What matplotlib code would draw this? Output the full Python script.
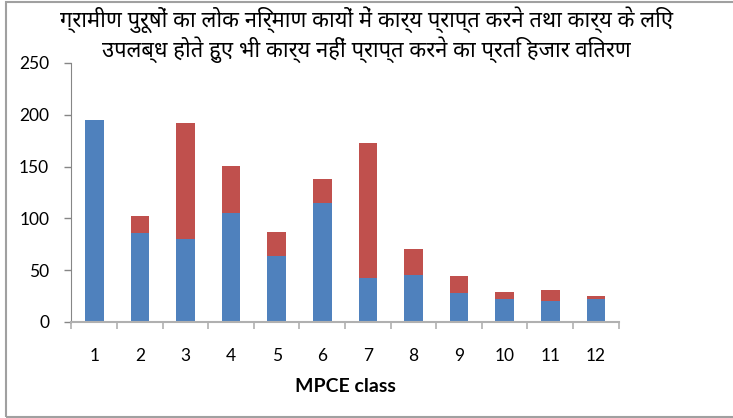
import matplotlib
matplotlib.use("Agg")
import matplotlib.pyplot as plt
from matplotlib.patches import Rectangle

# MPCE class-wise distribution per 1000 rural males
mpce_class = [1, 2, 3, 4, 5, 6, 7, 8, 9, 10, 11, 12]
got_work = [195, 86, 80, 105, 64, 115, 42, 45, 28, 22, 20, 22]       # blue
no_work = [0, 16, 112, 46, 23, 23, 131, 25, 16, 7, 11, 3]            # red
title = "ग्रामीण पुरूषों का लोक निर्माण कायों में कार्य प्राप्त करने तथा कार्य के लिए\nउपलब्ध होते हुए भी कार्य नहीं प्राप्त करने का प्रति हजार वितरण"

plt.rcParams['font.family'] = ['Lato', 'DejaVu Sans']

fig = plt.figure(figsize=(7.33, 4.18), dpi=100)
ax = fig.add_axes([0.0975, 0.2297, 0.7465, 0.6196])

ax.bar(mpce_class, got_work, width=0.41, color='#4F81BD')
ax.bar(mpce_class, no_work, width=0.41, bottom=got_work, color='#C0504D')

ax.set_xlim(0.5, 12.5)
ax.set_ylim(0, 250)
ax.set_yticks([0, 50, 100, 150, 200, 250])
ax.set_xticks(mpce_class)
ax.set_xticks([i + 0.5 for i in range(13)], minor=True)
ax.tick_params(axis='x', which='major', length=0, pad=19, labelsize=12.5)
ax.tick_params(axis='x', which='minor', length=5, width=1.2, color='#B0B0B0', direction='out')
ax.tick_params(axis='y', length=5, width=1, color='#868686', pad=11, labelsize=12.5)

for s in ['top', 'right']:
    ax.spines[s].set_visible(False)
ax.spines['left'].set_color('#868686')
ax.spines['bottom'].set_color('#B0B0B0')
ax.spines['bottom'].set_linewidth(1.5)

ax.set_xlabel('MPCE class', fontsize=14, fontweight='bold', labelpad=10)

fig.text(0.5, 0.917, title, ha='center', va='center', fontsize=15.8,
         family=['Noto Sans Devanagari', 'DejaVu Sans'], linespacing=1.15)

fig.add_artist(Rectangle((6 / 733, 1 / 418), 1.0, 415.5 / 418, transform=fig.transFigure,
                         fill=False, edgecolor='#A0A0A0', linewidth=1.5))

fig.savefig('out.png', dpi=100)
